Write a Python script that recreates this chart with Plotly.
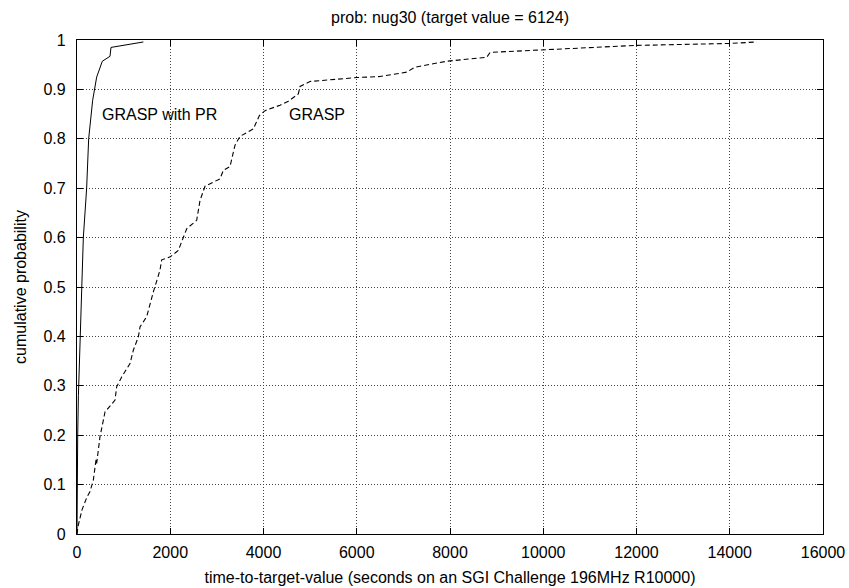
import plotly.graph_objects as go

# ---- data ----
pr_time = [0, 5, 15, 30, 65, 100, 136, 207, 250, 336, 422, 543, 708, 729, 1423]
pr_prob = [0, 0.10, 0.20, 0.28, 0.40, 0.50, 0.60, 0.70, 0.80, 0.878, 0.925, 0.957, 0.967, 0.985, 0.996]

grasp_time = [0, 21, 107, 214, 279, 322, 350, 408, 422, 493, 500, 601, 815, 851, 959, 1137,
              1208, 1316, 1351, 1495, 1637, 1780, 1816, 2000, 2173, 2280, 2353, 2567, 2638,
              2746, 3067, 3138, 3282, 3389, 3496, 3782, 3911, 4033, 4354, 4533, 4747, 4783,
              4998, 6000, 6500, 7072, 7250, 7930, 8788, 8860, 10000, 11990, 13992, 14580]
grasp_prob = [0, 0.015, 0.049, 0.075, 0.086, 0.10, 0.109, 0.15, 0.143, 0.197, 0.20, 0.247, 0.271,
              0.298, 0.318, 0.345, 0.372, 0.399, 0.419, 0.44, 0.49, 0.534, 0.555, 0.561, 0.574,
              0.598, 0.618, 0.635, 0.675, 0.704, 0.719, 0.736, 0.744, 0.787, 0.805, 0.82, 0.847,
              0.857, 0.868, 0.876, 0.891, 0.906, 0.916, 0.924, 0.926, 0.935, 0.945, 0.957, 0.965,
              0.975, 0.98, 0.989, 0.993, 0.996]

x_tickvals = [0, 2000, 4000, 6000, 8000, 10000, 12000, 14000, 16000]
x_ticktext = ["0", "2000", "4000", "6000", "8000", "10000", "12000", "14000", "16000"]
y_tickvals = [0, 0.1, 0.2, 0.3, 0.4, 0.5, 0.6, 0.7, 0.8, 0.9, 1]
y_ticktext = ["0", "0.1", "0.2", "0.3", "0.4", "0.5", "0.6", "0.7", "0.8", "0.9", "1"]

labels = ["GRASP with PR", "GRASP"]
label_x = [493, 4504]
label_y = [0.85, 0.85]

title_text = "prob: nug30 (target value = 6124)"
x_title = "time-to-target-value (seconds on an SGI Challenge 196MHz R10000)"
y_title = "cumulative probability"

FONT = "Liberation Sans, Arial, sans-serif"

fig = go.Figure()
fig.add_trace(go.Scatter(x=pr_time, y=pr_prob, mode="lines", name=labels[0],
                         line=dict(color="black", width=1)))
fig.add_trace(go.Scatter(x=grasp_time, y=grasp_prob, mode="lines", name=labels[1],
                         line=dict(color="black", width=1.1, dash="5px,3px")))

for t, xv, yv in zip(labels, label_x, label_y):
    fig.add_annotation(x=xv, y=yv, text=t, showarrow=False, xanchor="left", yanchor="middle",
                       font=dict(family=FONT, size=16, color="black"))

axis_common = dict(
    showline=True, linecolor="black", linewidth=1.2, mirror="ticks",
    ticks="inside", ticklen=6, tickwidth=1, tickcolor="black",
    showgrid=True, gridcolor="#444", gridwidth=1, griddash="1px,2px",
    zeroline=False, automargin=False,
    tickfont=dict(family=FONT, size=16, color="black"),
)

fig.update_layout(
    width=849, height=588,
    margin=dict(l=77, r=26, t=40, b=54),
    paper_bgcolor="white", plot_bgcolor="white",
    showlegend=False,
    font=dict(family=FONT, size=16, color="black"),
    title=dict(text=title_text, x=0.5, xref="paper", y=1 - 17 / 588, yref="container",
               xanchor="center", yanchor="middle", font=dict(family=FONT, size=16, color="black")),
    xaxis=dict(range=[0, 16000], tickvals=x_tickvals, ticktext=x_ticktext,
               title=dict(text=x_title, standoff=11, font=dict(family=FONT, size=16)),
               ticklabelstandoff=4, **axis_common),
    yaxis=dict(range=[0, 1], tickvals=y_tickvals, ticktext=y_ticktext,
               title=dict(text=y_title, standoff=12, font=dict(family=FONT, size=16)),
               ticklabelstandoff=7, **axis_common),
)

fig.write_html("out.html")
